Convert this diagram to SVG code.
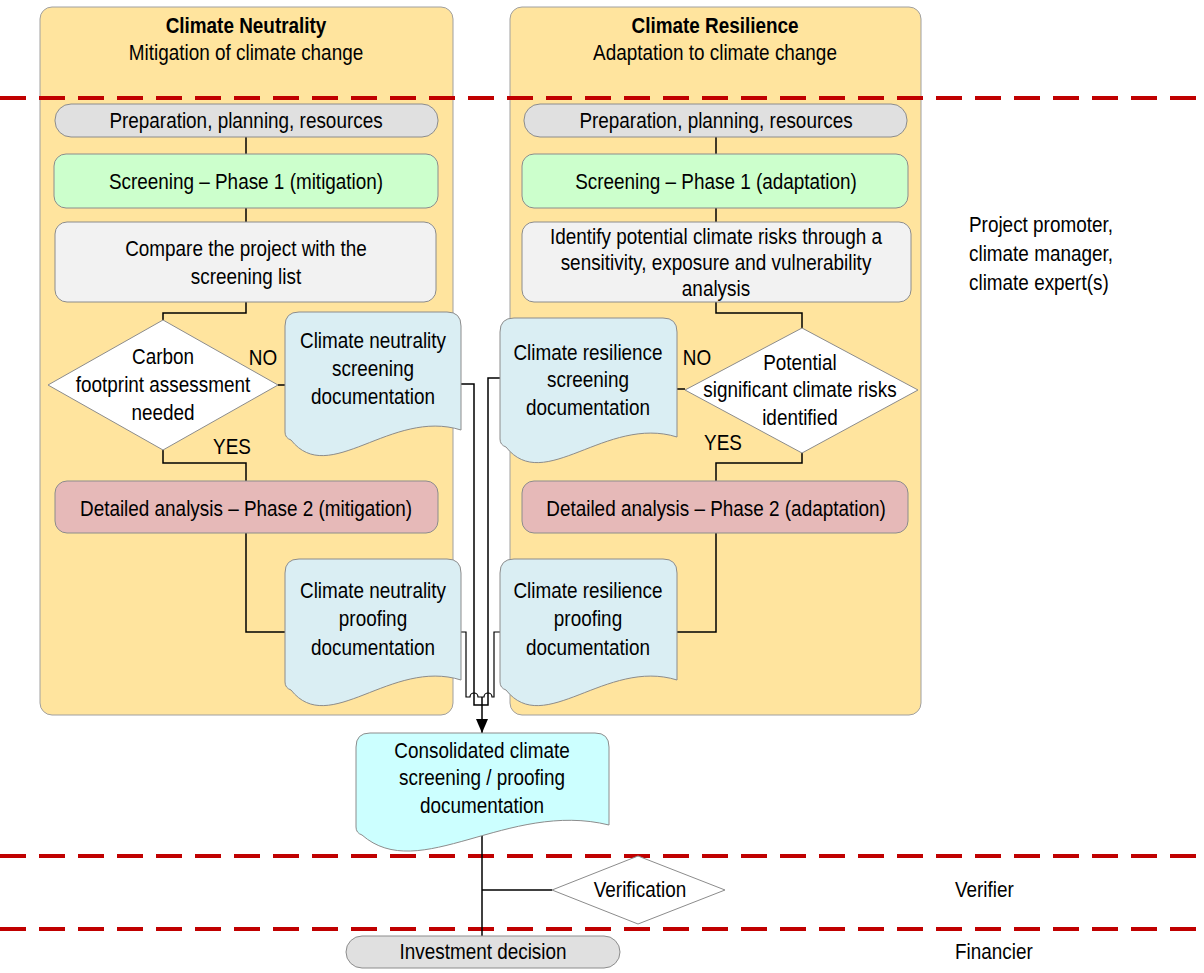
<svg xmlns="http://www.w3.org/2000/svg" width="1204" height="973" viewBox="0 0 1204 973">
<style>
text{font-family:"Liberation Sans",Arial,sans-serif;font-size:22px;fill:#000;text-anchor:middle;dominant-baseline:central}
.b{font-weight:bold}
.s{text-anchor:start}
.panel{fill:#FFE49E;stroke:#A0A0A0;stroke-width:1}
.box{stroke:#8C8C8C;stroke-width:1}
.gray{fill:#E0E0E0}
.green{fill:#CCFFCC}
.light{fill:#F2F2F2}
.red{fill:#E6B9B8}
.doc{fill:#DAEEF3;stroke:#8C8C8C;stroke-width:1}
.cons{fill:#CCFFFF;stroke:#8C8C8C;stroke-width:1}
.dia{fill:#FFF;stroke:#8C8C8C;stroke-width:1}
.c{fill:none;stroke:#000;stroke-width:1.5}
.dash{stroke:#C00000;stroke-width:4;stroke-dasharray:26 13;fill:none}
</style>
<defs>
<marker id="arr" markerWidth="16" markerHeight="16" refX="14" refY="6" orient="auto" markerUnits="userSpaceOnUse">
<path d="M0,0 L14,6 L0,12 Z" fill="#000"/>
</marker>
</defs>

<g id="panel-neutrality">
<rect class="panel" x="40" y="7" width="413" height="708" rx="12"/>
<text class="b" transform="translate(246 25) scale(.86 1)">Climate Neutrality</text>
<text transform="translate(246 52) scale(.86 1)">Mitigation of climate change</text>
</g>
<g id="panel-resilience">
<rect class="panel" x="510" y="7" width="411" height="708" rx="12"/>
<text class="b" transform="translate(715 25) scale(.86 1)">Climate Resilience</text>
<text transform="translate(715 52) scale(.86 1)">Adaptation to climate change</text>
</g>

<g id="lanes">
<line class="dash" x1="0" y1="98" x2="1204" y2="98"/>
<line class="dash" x1="0" y1="856" x2="1204" y2="856"/>
<line class="dash" x1="0" y1="929" x2="1204" y2="929"/>
</g>

<g id="connectors">
<path class="c" d="M246,137 V154"/>
<path class="c" d="M246,208 V222"/>
<path class="c" d="M246,302 V313 H163 V320"/>
<path class="c" d="M278,385 H285"/>
<path class="c" d="M163,450 V463 H246 V481"/>
<path class="c" d="M246,533 V632 H285"/>
<path class="c" d="M716,137 V154"/>
<path class="c" d="M716,208 V222"/>
<path class="c" d="M716,302 V313 H802 V328"/>
<path class="c" d="M685,389 H677"/>
<path class="c" d="M802,453 V463 H716 V481"/>
<path class="c" d="M716,533 V632 H677"/>
<path class="c" d="M461,384 H474 V705 H482"/>
<path class="c" d="M500,378 H488 V705 H482"/>
<path class="c" style="stroke-width:1.2" d="M461,632 H466 V697 H470 A4,4 0 0 1 478,697 H482"/>
<path class="c" style="stroke-width:1.2" d="M500,632 H494 V697 H492 A4,4 0 0 0 484,697 H482"/>
<path class="c" d="M482,697 V733" marker-end="url(#arr)"/>
<path class="c" d="M482,836 V937"/>
<path class="c" d="M482,890 H552"/>
</g>

<g id="prep-mitigation">
<rect class="box gray" x="55" y="104" width="383" height="33" rx="16"/>
<text transform="translate(246 120) scale(.86 1)">Preparation, planning, resources</text>
</g>
<g id="screening-mitigation">
<rect class="box green" x="54" y="154" width="384" height="54" rx="12"/>
<text transform="translate(246 181) scale(.86 1)">Screening – Phase 1 (mitigation)</text>
</g>
<g id="compare">
<rect class="box light" x="55" y="222" width="381" height="80" rx="12"/>
<text transform="translate(246 248) scale(.86 1)">Compare the project with the</text>
<text transform="translate(246 276) scale(.86 1)">screening list</text>
</g>
<g id="decision-carbon">
<path class="dia" d="M163,320 L278,385 L163,450 L48,385 Z"/>
<text transform="translate(163 356) scale(.86 1)">Carbon</text>
<text transform="translate(163 384) scale(.86 1)">footprint assessment</text>
<text transform="translate(163 412) scale(.86 1)">needed</text>
<text transform="translate(263 357) scale(.86 1)">NO</text>
<text transform="translate(232 446) scale(.86 1)">YES</text>
</g>
<g id="doc-neutral-screening">
<path class="doc" d="M285,326 Q285,312 299,312 H447 Q461,312 461,326 V430 C391,408 329,488 291,440 Q285,438 285,432 Z"/>
<text transform="translate(373 340) scale(.86 1)">Climate neutrality</text>
<text transform="translate(373 368) scale(.86 1)">screening</text>
<text transform="translate(373 396) scale(.86 1)">documentation</text>
</g>
<g id="detailed-mitigation">
<rect class="box red" x="55" y="481" width="383" height="52" rx="12"/>
<text transform="translate(246 508) scale(.86 1)">Detailed analysis – Phase 2 (mitigation)</text>
</g>
<g id="doc-neutral-proofing">
<path class="doc" d="M285,573 Q285,559 299,559 H447 Q461,559 461,573 V680 C391,658 329,738 291,690 Q285,688 285,682 Z"/>
<text transform="translate(373 590) scale(.86 1)">Climate neutrality</text>
<text transform="translate(373 618) scale(.86 1)">proofing</text>
<text transform="translate(373 647) scale(.86 1)">documentation</text>
</g>

<g id="prep-adaptation">
<rect class="box gray" x="524" y="104" width="383" height="33" rx="16"/>
<text transform="translate(716 120) scale(.86 1)">Preparation, planning, resources</text>
</g>
<g id="screening-adaptation">
<rect class="box green" x="522" y="154" width="386" height="54" rx="12"/>
<text transform="translate(716 181) scale(.86 1)">Screening – Phase 1 (adaptation)</text>
</g>
<g id="identify">
<rect class="box light" x="522" y="222" width="389" height="80" rx="12"/>
<text transform="translate(716 236) scale(.86 1)">Identify potential climate risks through a</text>
<text transform="translate(716 262) scale(.86 1)">sensitivity, exposure and vulnerability</text>
<text transform="translate(716 288) scale(.86 1)">analysis</text>
</g>
<g id="decision-risks">
<path class="dia" d="M802,328 L918,390 L802,453 L685,390 Z"/>
<text transform="translate(800 362) scale(.86 1)">Potential</text>
<text transform="translate(800 389) scale(.86 1)">significant climate risks</text>
<text transform="translate(800 417) scale(.86 1)">identified</text>
<text transform="translate(697 357) scale(.86 1)">NO</text>
<text transform="translate(723 442) scale(.86 1)">YES</text>
</g>
<g id="doc-resilience-screening">
<path class="doc" d="M500,332 Q500,318 514,318 H663 Q677,318 677,332 V437 C606,415 544,495 506,447 Q500,445 500,439 Z"/>
<text transform="translate(588 352) scale(.86 1)">Climate resilience</text>
<text transform="translate(588 379) scale(.86 1)">screening</text>
<text transform="translate(588 407) scale(.86 1)">documentation</text>
</g>
<g id="detailed-adaptation">
<rect class="box red" x="522" y="481" width="386" height="52" rx="12"/>
<text transform="translate(716 508) scale(.86 1)">Detailed analysis – Phase 2 (adaptation)</text>
</g>
<g id="doc-resilience-proofing">
<path class="doc" d="M500,573 Q500,559 514,559 H663 Q677,559 677,573 V680 C606,658 544,738 506,690 Q500,688 500,682 Z"/>
<text transform="translate(588 590) scale(.86 1)">Climate resilience</text>
<text transform="translate(588 618) scale(.86 1)">proofing</text>
<text transform="translate(588 647) scale(.86 1)">documentation</text>
</g>

<g id="doc-consolidated">
<path class="cons" d="M356,747 Q356,733 370,733 H595 Q609,733 609,747 V825 C508,800 419,885 362,835 Q356,833 356,827 Z"/>
<text transform="translate(482 750) scale(.86 1)">Consolidated climate</text>
<text transform="translate(482 777) scale(.86 1)">screening / proofing</text>
<text transform="translate(482 805) scale(.86 1)">documentation</text>
</g>
<g id="verification">
<path class="dia" d="M638,856 L725,890 L638,924 L552,890 Z"/>
<text transform="translate(640 889) scale(.86 1)">Verification</text>
</g>
<g id="investment">
<rect class="box gray" x="346" y="936" width="274" height="32" rx="16"/>
<text transform="translate(483 951) scale(.86 1)">Investment decision</text>
</g>

<g id="roles">
<text class="s" transform="translate(969 224) scale(.86 1)">Project promoter,</text>
<text class="s" transform="translate(969 253) scale(.86 1)">climate manager,</text>
<text class="s" transform="translate(969 282) scale(.86 1)">climate expert(s)</text>
<text class="s" transform="translate(955 889) scale(.86 1)">Verifier</text>
<text class="s" transform="translate(955 951) scale(.86 1)">Financier</text>
</g>
</svg>
